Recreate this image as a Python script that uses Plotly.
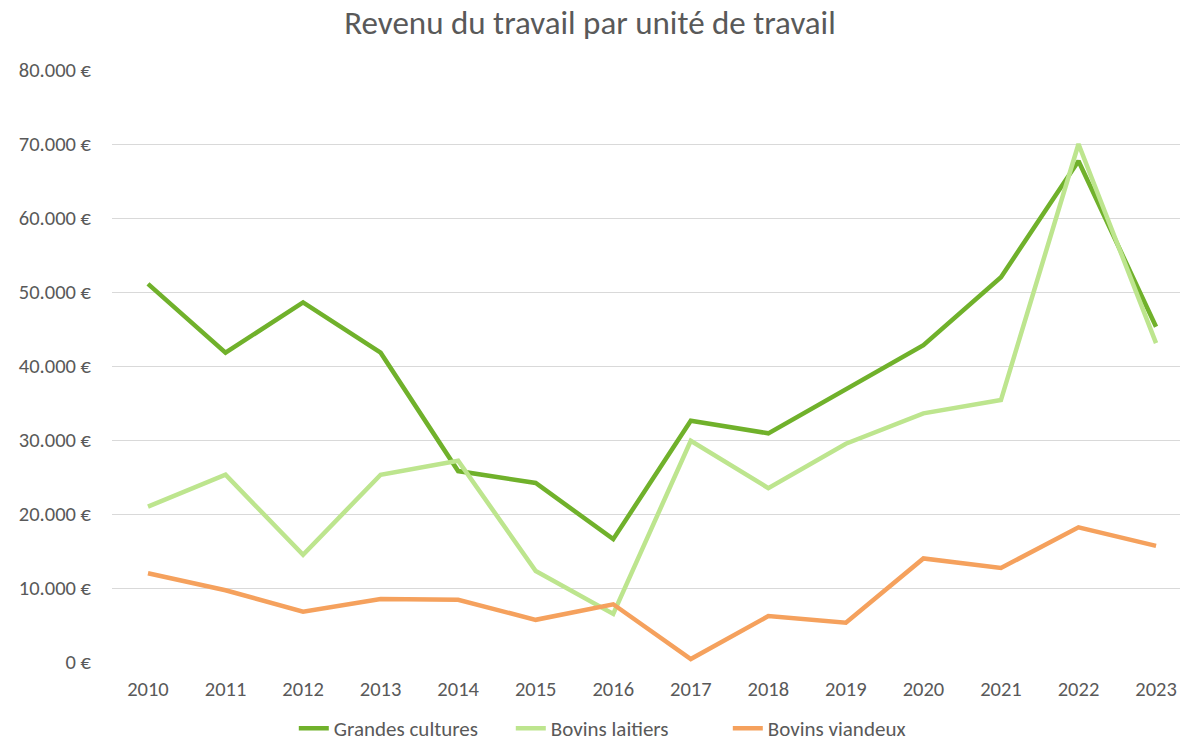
import plotly.graph_objects as go

years = ["2010", "2011", "2012", "2013", "2014", "2015", "2016", "2017", "2018", "2019", "2020", "2021", "2022", "2023"]
grandes_cultures = [51100, 41800, 48600, 41800, 25800, 24200, 16600, 32600, 30900, 36900, 42800, 52000, 67700, 45300]
bovins_laitiers = [21000, 25300, 14500, 25300, 27200, 12300, 6500, 29900, 23500, 29500, 33600, 35400, 70000, 43100]
bovins_viandeux = [12000, 9700, 6800, 8500, 8400, 5700, 7800, 400, 6200, 5300, 14000, 12700, 18200, 15700]
y_ticks = [0, 10000, 20000, 30000, 40000, 50000, 60000, 70000, 80000]
y_labels = ["0 €", "10.000 €", "20.000 €", "30.000 €", "40.000 €", "50.000 €", "60.000 €", "70.000 €", "80.000 €"]

font_family = "Carlito, Lato, 'Open Sans', sans-serif"
text_color = "#595959"

fig = go.Figure()
series = [
    ("Grandes cultures", grandes_cultures, "#70B12B"),
    ("Bovins laitiers", bovins_laitiers, "#BDE58E"),
    ("Bovins viandeux", bovins_viandeux, "#F5A15D"),
]
for name, vals, color in series:
    fig.add_trace(go.Scatter(
        x=years, y=vals, name=name, mode="lines",
        line=dict(color=color, width=4.5),
    ))

fig.update_layout(
    width=1180, height=748,
    paper_bgcolor="white", plot_bgcolor="white",
    margin=dict(l=112, r=0, t=70, b=86),
    font=dict(family=font_family, size=20, color=text_color),
    title=dict(text="Revenu du travail par unité de travail", x=0.5, xanchor="center",
               y=0.97, yanchor="middle", font=dict(size=33, color=text_color, family=font_family)),
    showlegend=True,
    legend=dict(orientation="h", x=0.475, xanchor="center", yref="container", y=0.026, yanchor="middle",
                font=dict(size=21, color=text_color), itemwidth=30, entrywidth=172,
                traceorder="normal"),
    xaxis=dict(type="category", range=[-0.464, 13.309], showgrid=False, zeroline=False,
               showline=False, ticks="", ticklabelstandoff=12, automargin=False,
               tickfont=dict(size=20.5, color=text_color)),
    yaxis=dict(range=[0, 80000], tickvals=y_ticks, ticktext=y_labels, showgrid=True,
               gridcolor="#D9D9D9", gridwidth=1, zeroline=False, showline=False, ticks="",
               ticklabelstandoff=20, automargin=False, tickfont=dict(size=20.5, color=text_color)),
)

fig.write_html("out.html", config={"displayModeBar": False},
               post_script="document.body.style.margin='0';document.body.style.overflow='hidden';")
